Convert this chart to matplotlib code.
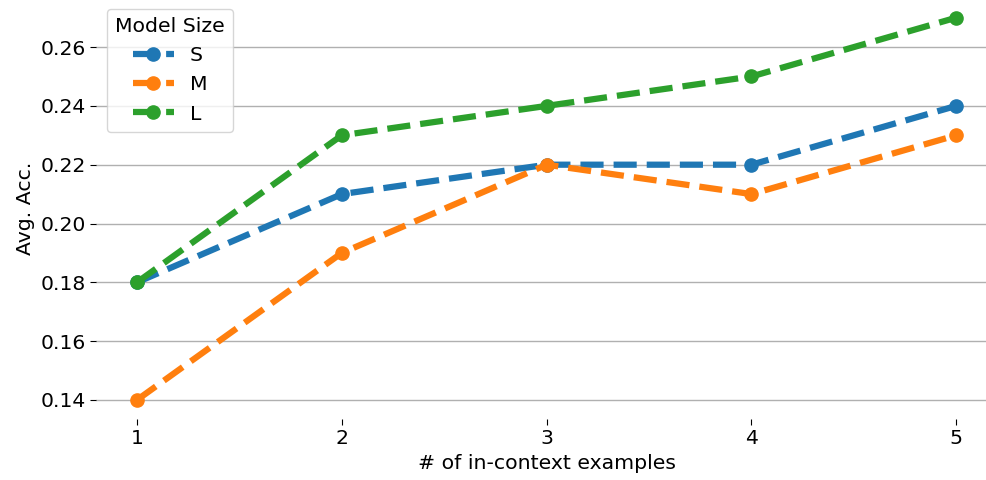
import matplotlib
matplotlib.use("Agg")
import matplotlib.pyplot as plt

shots = [1, 2, 3, 4, 5]
acc_s = [0.18, 0.21, 0.22, 0.22, 0.24]
acc_m = [0.14, 0.19, 0.22, 0.21, 0.23]
acc_l = [0.18, 0.23, 0.24, 0.25, 0.27]
sizes = ["S", "M", "L"]

plt.rcParams["font.size"] = 14.7

fig = plt.figure(figsize=(9.86, 4.8), dpi=100)
ax = fig.add_axes([0.0974, 0.127, 0.914, 0.876])

for vals, name, col in zip([acc_s, acc_m, acc_l], sizes,
                           ["tab:blue", "tab:orange", "tab:green"]):
    ax.plot(shots, vals, linestyle="--", linewidth=4.5, marker="o",
            markersize=9.5, color=col, label=name)

ax.set_xticks(shots)
ax.set_yticks([0.14, 0.16, 0.18, 0.20, 0.22, 0.24, 0.26])
ax.set_yticklabels(["0.14", "0.16", "0.18", "0.20", "0.22", "0.24", "0.26"])
ax.grid(axis="y", color="#b0b0b0", linewidth=1)
ax.set_axisbelow(True)
for sp in ax.spines.values():
    sp.set_visible(False)
ax.tick_params(length=4, width=0.8)

ax.set_xlabel("# of in-context examples")
ax.set_ylabel("Avg. Acc.")
ax.legend(title="Model Size", loc="upper left", bbox_to_anchor=(0.001, 1.0))

fig.savefig("out.png", dpi=100)
